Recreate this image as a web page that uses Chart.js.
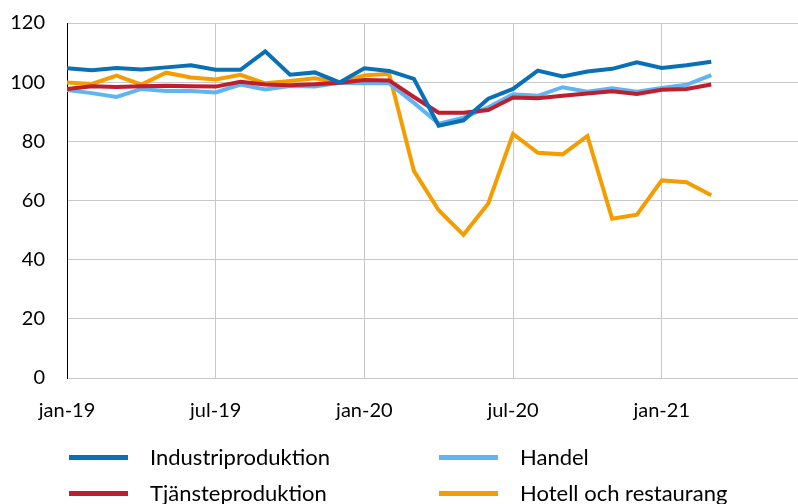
<!DOCTYPE html>
<html>
<head>
<meta charset="utf-8">
<script src="https://cdn.jsdelivr.net/npm/chart.js@4"></script>
<style>
  html, body { margin: 0; padding: 0; background: #fff; }
  #wrap { position: relative; width: 798px; height: 504px; overflow: hidden; font-family: Lato, sans-serif; }
  .leg { position: absolute; font-size: 22px; color: #000; line-height: 22px; white-space: nowrap; }
  .leg i { position: absolute; left: -81px; top: 9px; width: 59px; height: 5px; }
</style>
</head>
<body>
<div id="wrap">
  <canvas id="c" width="798" height="504"></canvas>
</div>
<script>
const months = ['jan-19', 'feb-19', 'mar-19', 'apr-19', 'maj-19', 'jun-19', 'jul-19', 'aug-19', 'sep-19', 'okt-19', 'nov-19', 'dec-19',
    'jan-20', 'feb-20', 'mar-20', 'apr-20', 'maj-20', 'jun-20', 'jul-20', 'aug-20', 'sep-20', 'okt-20', 'nov-20', 'dec-20',
    'jan-21', 'feb-21', 'mar-21'];
const tickMonths = [0, 6, 12, 18, 24];

const industri = [104.7, 104.0, 104.8, 104.3, 105.0, 105.7, 104.2, 104.2, 110.4, 102.5, 103.3, 99.9,
    104.7, 103.8, 101.1, 85.3, 87.1, 94.4, 97.7, 103.9, 101.9, 103.6, 104.5, 106.7,
    104.8, 105.7, 106.9];
const handel = [97.4, 96.3, 95.0, 97.7, 97.0, 97.0, 96.5, 99.2, 97.5, 98.7, 98.5, 99.8,
    99.6, 99.6, 93.0, 86.0, 88.0, 91.5, 95.9, 95.4, 98.3, 96.8, 97.9, 96.8,
    98.0, 99.1, 102.4];
const tjanste = [97.7, 98.6, 98.4, 98.6, 98.8, 98.6, 98.5, 100.1, 99.2, 99.0, 99.3, 99.8,
    100.7, 100.6, 95.0, 89.7, 89.7, 90.6, 94.8, 94.6, 95.4, 96.2, 96.9, 96.0,
    97.4, 97.7, 99.2];
const hotell = [99.9, 99.4, 102.2, 99.2, 103.2, 101.6, 100.9, 102.5, 99.6, 100.4, 101.3, 99.9,
    102.3, 102.8, 70.0, 56.7, 48.4, 59.0, 82.5, 76.1, 75.6, 81.8, 53.8, 55.2,
    66.8, 66.2, 61.8];

const series = [
    { label: 'Industriproduktion', values: industri, color: '#0a70b5', order: 0 },
    { label: 'Handel', values: handel, color: '#60b5f1', order: 2 },
    { label: 'Tjänsteproduktion', values: tjanste, color: '#be1e2d', order: 1 },
    { label: 'Hotell och restaurang', values: hotell, color: '#f59c00', order: 3 }
];

// html legend, two columns
const legendPos = [[150, 446], [520, 446], [150, 482], [520, 482]];
const wrap = document.getElementById('wrap');
series.forEach((s, i) => {
    const d = document.createElement('div');
    d.className = 'leg';
    d.style.left = legendPos[i][0] + 'px';
    d.style.top = legendPos[i][1] + 'px';
    d.innerHTML = '<i style="background:' + s.color + '"></i>' + s.label;
    wrap.appendChild(d);
});

new Chart(document.getElementById('c'), {
    type: 'line',
    data: {
        datasets: series.map(s => ({
            label: s.label,
            data: s.values.map((v, i) => ({ x: i, y: v })),
            borderColor: s.color,
            backgroundColor: s.color,
            borderWidth: 4,
            pointRadius: 0,
            tension: 0,
            order: s.order
        }))
    },
    options: {
        responsive: false,
        animation: false,
        layout: { padding: { top: 23, right: 0, bottom: 66, left: 0 } },
        plugins: { legend: { display: false }, tooltip: { enabled: false } },
        scales: {
            x: {
                type: 'linear',
                min: 0,
                max: 29.5,
                afterFit: scale => { scale.height = 60; },
                afterBuildTicks: scale => { scale.ticks = tickMonths.map(v => ({ value: v })); },
                grid: { color: '#c8c8c8', lineWidth: 1, drawTicks: false },
                border: { color: '#c8c8c8' },
                ticks: {
                    padding: 21,
                    maxRotation: 0,
                    autoSkip: false,
                    color: '#000',
                    font: { family: 'Lato', size: 20 },
                    callback: v => months[v]
                }
            },
            y: {
                min: 0,
                max: 120,
                afterFit: scale => {
                    scale.width = 67;
                    scale.paddingTop = 0;
                    scale.paddingBottom = 0;
                },
                grid: { color: '#c8c8c8', lineWidth: 1, drawTicks: false },
                border: { color: '#000', width: 1 },
                ticks: {
                    stepSize: 20,
                    padding: 22,
                    color: '#000',
                    font: { family: 'Lato', size: 20 }
                }
            }
        }
    }
});
</script>
</body>
</html>
